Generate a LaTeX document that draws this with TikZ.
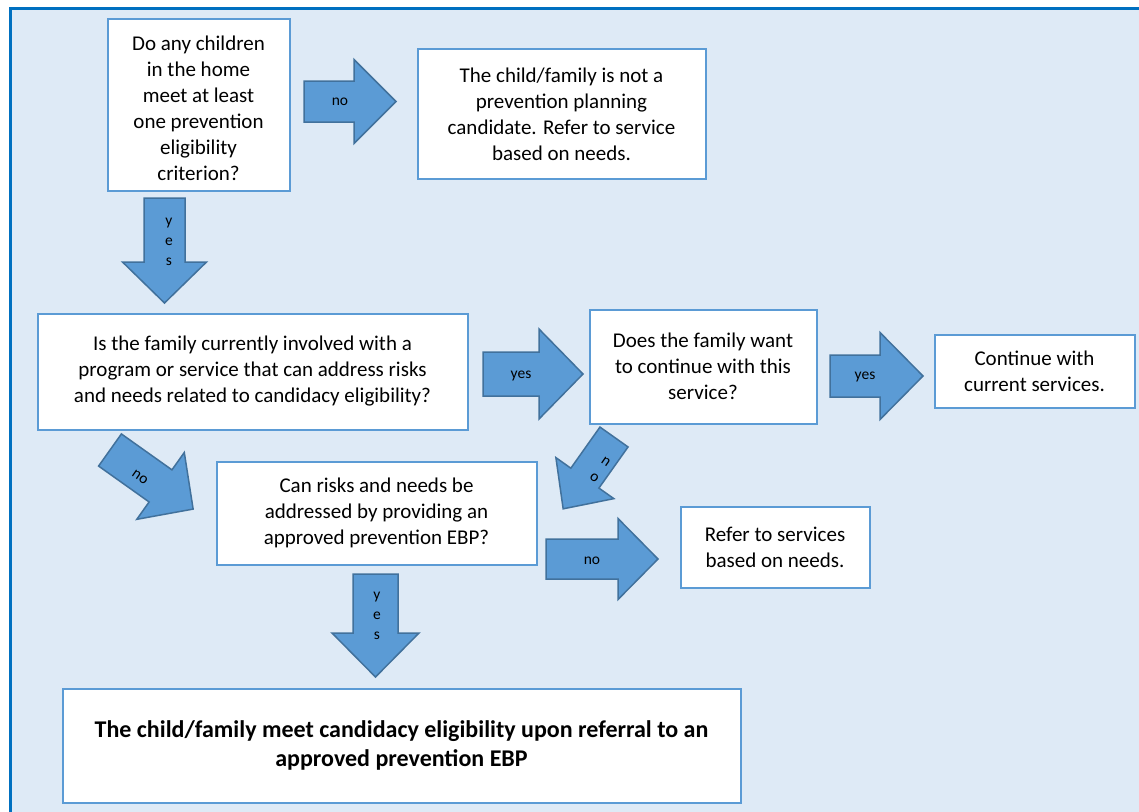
\documentclass[tikz,border=0pt]{standalone}
\usepackage{fontspec}
\setmainfont{Carlito}
\definecolor{framecol}{HTML}{0070C0}
\definecolor{bgcol}{HTML}{DEEAF6}
\definecolor{boxcol}{HTML}{5B9BD5}
\definecolor{arrfill}{HTML}{5B9BD5}
\definecolor{arrdraw}{HTML}{41719C}
\newcommand\blockarrow[7]{%
  \begin{scope}[shift={(#1,#2)},rotate=#3]
    \draw[arrowshape] (0,-#5) -- ({#4-#7},-#5) -- ({#4-#7},-#6) -- (#4,0)
      -- ({#4-#7},#6) -- ({#4-#7},#5) -- (0,#5) -- cycle;
  \end{scope}}
\begin{document}
\begin{tikzpicture}[x=1pt,y=-1pt,
  box/.style={draw=boxcol, line width=2pt, fill=white, inner sep=0pt, align=center,
    font=\fontsize{21}{26}\selectfont},
  boxtext/.style={inner sep=0pt, align=center, font=\fontsize{21}{26}\selectfont},
  endbox/.style={box, font=\fontsize{24}{29}\selectfont\bfseries},
  arrowshape/.style={fill=arrfill, draw=arrdraw, line width=1.5pt, line join=miter},
  lbl/.style={inner sep=0pt, align=center, font=\fontsize{15.5}{20}\selectfont}]
\useasboundingbox (0,0) rectangle (1139,811);
\clip (0,0) rectangle (1139,811);
\fill[white] (0,0) rectangle (1139,811);
\draw[framecol, line width=3pt, fill=bgcol] (10,8) rectangle (1170,840);

% boxes
\node[box, minimum width=182, minimum height=172] (q1) at (198.5,104.5) {};
\node[boxtext] (q1t) at (198.5,108.5)
  {Do any children\\in the home\\meet at least\\one prevention\\eligibility\\criterion?};
\node[box, minimum width=288, minimum height=130] (notcand) at (561.5,114)
  {The child/family is not a\\prevention planning\\candidate. Refer to service\\based on needs.};
\node[box, minimum width=430, minimum height=116] (q2) at (252.5,371.5)
  {Is the family currently involved with a\\program or service that can address risks\\and needs related to candidacy eligibility?};
\node[box, minimum width=227, minimum height=114] (q3) at (703,366.5)
  {Does the family want\\to continue with this\\service?};
\node[box, minimum width=200, minimum height=73] (cont) at (1034.5,371)
  {Continue with\\current services.};
\node[box, minimum width=320, minimum height=103] (q4) at (376.5,513)
  {Can risks and needs be\\addressed by providing an\\approved prevention EBP?};
\node[box, minimum width=189, minimum height=81] (refer) at (775,547)
  {Refer to services\\based on needs.};
\node[endbox, minimum width=678, minimum height=114] (final) at (401.5,745.5)
  {The child/family meet candidacy eligibility upon referral to an\\approved prevention EBP};

% block arrows: x, y, rotation, length, shaft half-width, head half-width, head length
\blockarrow{304}{101.5}{0}{92}{20.5}{42}{42}
\blockarrow{164.5}{198}{-90}{105}{20.5}{42}{41}
\blockarrow{483}{374}{0}{100}{22}{45}{44}
\blockarrow{830}{376}{0}{93}{21}{43.5}{43}
\blockarrow{614}{437}{-125.3}{88}{17.2}{35.5}{37.6}
\blockarrow{110}{450}{-35.4}{102}{19.7}{41}{40}
\blockarrow{546}{559}{0}{112}{20}{40.5}{40}
\blockarrow{375.5}{574}{-90}{103}{22.5}{43.5}{44}

% arrow labels
\node[lbl] (l1) at (340,102) {no};
\node[lbl] (l2) at (169,242) {y\\e\\s};
\node[lbl] (l3) at (521,376) {yes};
\node[lbl] (l4) at (865,377) {yes};
\node[lbl, rotate=-35] (l5) at (600,470) {n\\o};
\node[lbl, rotate=-35] (l6) at (140,477) {no};
\node[lbl] (l7) at (592,561) {no};
\node[lbl] (l8) at (377,616) {y\\e\\s};
\end{tikzpicture}
\end{document}
